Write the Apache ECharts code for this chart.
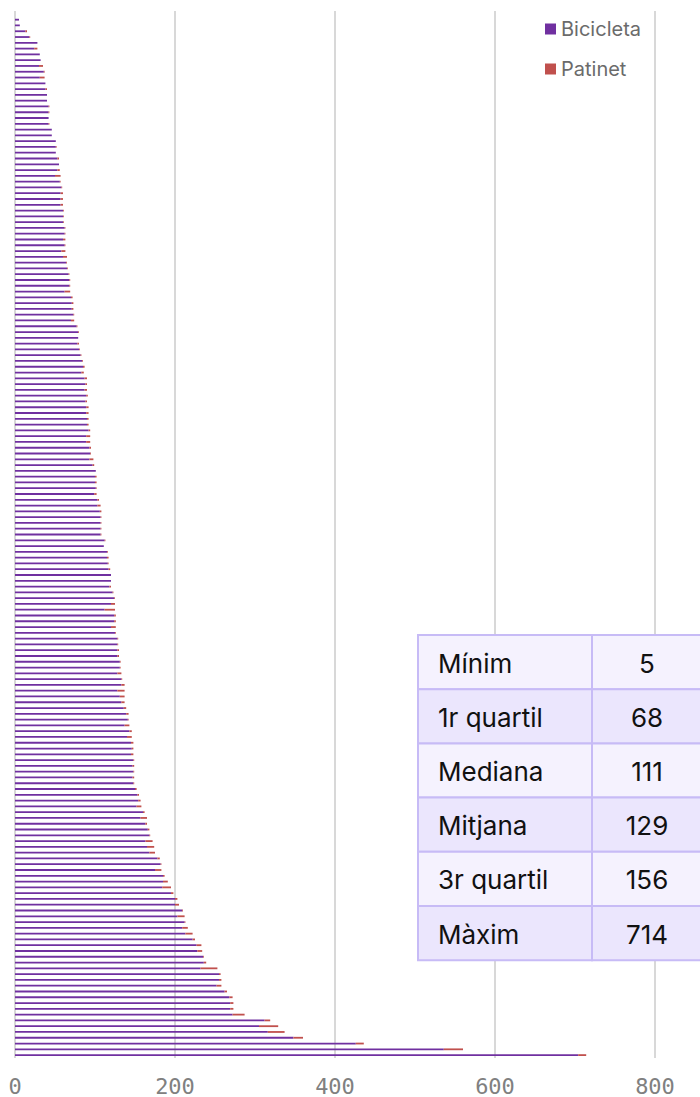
<!DOCTYPE html>
<html>
<head>
<meta charset="utf-8">
<script src="https://cdn.jsdelivr.net/npm/echarts@6/dist/echarts.min.js"></script>
<style>
html,body{margin:0;padding:0;background:#fff;}
#chart{width:700px;height:1097px;}
</style>
</head>
<body>
<div id="chart"></div>
<script>
const bicicleta = [
  5,6,13,18,28,24,31,32,30,36,
  31,38,38,40,40,42,42,42,42,46,
  46,51,51,51,53,55,53,50,56,58,
  57,57,57,60,60,60,62,62,60,62,
  58,60,64,65,67,68,68,62,70,71,
  71,73,70,77,79,79,78,80,82,84,
  85,83,87,88,87,89,88,89,89,90,
  90,92,89,89,93,94,93,97,101,100,
  100,101,99,103,103,106,107,107,107,107,
  112,111,115,115,116,117,120,120,118,122,
  124,120,112,124,124,120,125,128,128,128,
  128,131,131,128,133,133,128,131,133,136,
  139,141,137,143,140,145,146,145,148,147,
  148,147,148,150,153,154,152,160,157,163,
  166,168,163,165,168,178,182,175,185,185,
  184,195,200,200,209,203,212,209,213,222,
  227,228,235,236,232,255,255,252,262,268,
  269,269,272,312,305,316,348,426,536,704
];
const patinet = [
  0,0,2,1,0,4,0,0,5,1,
  6,0,2,0,0,1,1,0,1,0,
  0,0,1,0,2,0,3,7,1,1,
  3,3,3,1,1,1,1,1,3,1,
  5,5,1,1,1,1,1,7,2,2,
  2,1,4,1,1,0,2,1,1,1,
  2,3,3,2,3,2,2,3,3,2,
  2,2,5,5,2,1,5,2,0,2,
  2,1,3,2,4,2,1,1,1,1,
  1,0,1,2,1,2,0,0,2,1,
  1,5,13,2,2,6,1,1,1,2,
  2,1,1,5,1,4,9,6,4,3,
  3,1,6,3,6,3,2,3,1,2,
  1,2,1,2,2,3,6,2,8,2,
  2,1,9,9,7,3,1,8,2,6,
  11,3,3,5,1,9,1,7,9,3,
  6,6,1,3,21,2,3,6,3,4,
  4,4,15,7,24,21,12,10,24,10
];
const seriesNames = ['Bicicleta', 'Patinet'];
const xTicks = [0, 200, 400, 600, 800];
const statLabels = ['Mínim', '1r quartil', 'Mediana', 'Mitjana', '3r quartil', 'Màxim'];
const statValues = ['5', '68', '111', '129', '156', '714'];

// categories (one leading empty slot as in the reference layout)
const categories = [''].concat(bicicleta.map((_, i) => String(i + 1)));

const chart = echarts.init(document.getElementById('chart'), null, {renderer: 'svg'});

// table overlay
const tbl = {x: 418, y: 635, colX: 592, right: 700, rowH: 54.2};
const tableChildren = [];
statLabels.forEach((lab, i) => {
  const y = tbl.y + i * tbl.rowH;
  const fill = i % 2 === 0 ? '#f5f2fe' : '#ebe6fd';
  tableChildren.push({type: 'rect', z: 100, shape: {x: tbl.x, y: y, width: tbl.colX - tbl.x, height: tbl.rowH},
    style: {fill: fill, stroke: '#c7bbf6', lineWidth: 2}});
  tableChildren.push({type: 'rect', z: 100, shape: {x: tbl.colX, y: y, width: tbl.right - tbl.colX + 2, height: tbl.rowH},
    style: {fill: fill, stroke: '#c7bbf6', lineWidth: 2}});
  tableChildren.push({type: 'text', z: 101, x: tbl.x + 20, y: y + tbl.rowH / 2 + 1,
    style: {text: lab, fill: '#111', font: '26px Inter', textVerticalAlign: 'middle', textAlign: 'left'}});
  tableChildren.push({type: 'text', z: 101, x: (tbl.colX + tbl.right) / 2 + 1, y: y + tbl.rowH / 2 + 1,
    style: {text: statValues[i], fill: '#111', font: '26px Inter', textVerticalAlign: 'middle', textAlign: 'center'}});
});

chart.setOption({
  animation: false,
  backgroundColor: '#fff',
  grid: {left: 15, right: 45, top: 11, bottom: 35, containLabel: false},
  legend: {
    data: seriesNames,
    orient: 'vertical',
    right: 54,
    top: 14,
    itemWidth: 11,
    itemHeight: 11,
    itemGap: 20,
    icon: 'rect',
    textStyle: {color: '#6b6b6b', fontSize: 20, fontFamily: 'Inter'}
  },
  xAxis: {
    type: 'value',
    min: xTicks[0],
    max: xTicks[xTicks.length - 1],
    interval: 200,
    axisLine: {show: false},
    axisTick: {show: false},
    axisLabel: {color: '#808080', fontSize: 22, fontFamily: 'DejaVu Sans Mono', margin: 17},
    splitLine: {show: true, lineStyle: {color: '#d8d8d8', width: 2}}
  },
  yAxis: {
    type: 'category',
    inverse: true,
    data: categories,
    axisLine: {show: false},
    axisTick: {show: false},
    axisLabel: {show: false},
    splitLine: {show: false}
  },
  series: [
    {name: seriesNames[0], type: 'bar', stack: 'total', barWidth: 1.8,
     itemStyle: {color: '#7030a0'}, data: [null].concat(bicicleta)},
    {name: seriesNames[1], type: 'bar', stack: 'total', barWidth: 1.8,
     itemStyle: {color: '#c0504d'}, data: [null].concat(patinet)}
  ],
  graphic: [{type: 'group', z: 100, children: tableChildren}]
});
</script>
</body>
</html>
